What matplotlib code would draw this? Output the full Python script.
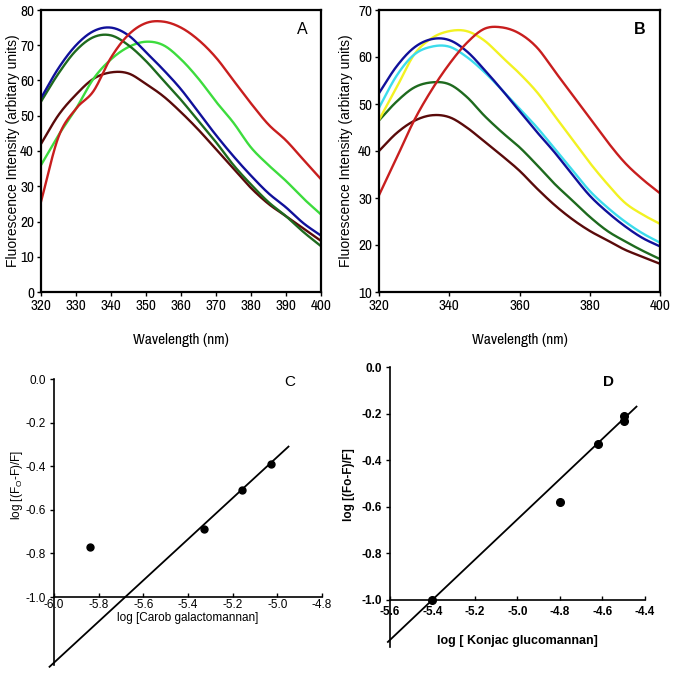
import numpy as np
import matplotlib
matplotlib.use("Agg")
import matplotlib.pyplot as plt
from matplotlib import font_manager

# ---------------- data ----------------
wl = [320, 325, 330, 335, 340, 345, 350, 355, 360, 365, 370, 375, 380, 385, 390, 395, 400]

a_red = [25.6, 44.0, 52.0, 57.0, 66.5, 73.0, 76.3, 76.7, 75.0, 71.5, 66.5, 60.0, 53.5, 47.5, 43.0, 37.5, 32.0]
a_blue = [55.0, 63.5, 70.0, 74.0, 75.0, 72.8, 68.0, 63.0, 57.5, 51.0, 44.5, 38.5, 33.0, 28.0, 24.0, 19.5, 16.0]
a_dkgreen = [54.0, 62.0, 68.5, 72.3, 72.8, 70.0, 65.5, 60.0, 54.5, 48.5, 42.5, 36.0, 30.5, 25.5, 21.5, 17.0, 13.0]
a_ltgreen = [36.0, 44.5, 52.0, 60.5, 66.0, 69.5, 71.0, 70.0, 66.0, 60.5, 54.0, 48.0, 41.0, 36.0, 31.5, 26.5, 22.0]
a_maroon = [42.0, 50.2, 56.0, 60.5, 62.3, 62.0, 59.0, 55.5, 51.0, 46.0, 40.5, 35.0, 29.5, 25.0, 21.5, 18.0, 14.5]

b_red = [30.6, 38.5, 46.5, 53.0, 58.5, 63.0, 66.0, 66.3, 65.0, 62.0, 57.0, 52.0, 47.0, 42.0, 37.5, 34.0, 31.0]
b_blue = [52.3, 58.0, 62.0, 63.8, 63.6, 61.2, 57.3, 53.0, 48.5, 44.0, 39.7, 35.0, 30.5, 27.0, 24.0, 21.5, 19.7]
b_cyan = [49.2, 56.0, 60.5, 62.2, 62.2, 60.0, 56.8, 53.0, 49.0, 45.0, 40.5, 36.0, 31.5, 28.0, 25.0, 22.5, 20.5]
b_yellow = [46.6, 53.5, 60.5, 64.0, 65.5, 65.5, 63.5, 60.0, 56.5, 52.5, 47.5, 42.5, 37.5, 33.0, 29.0, 26.5, 24.5]
b_dkgreen = [46.5, 50.5, 53.5, 54.6, 54.2, 51.5, 47.5, 44.0, 40.8, 37.0, 33.0, 29.5, 26.0, 23.0, 20.8, 18.8, 17.0]
b_maroon = [40.0, 43.8, 46.4, 47.6, 47.2, 45.0, 42.0, 39.0, 35.8, 32.0, 28.5, 25.5, 23.0, 21.0, 19.0, 17.5, 16.0]

c_x = [-5.84, -5.33, -5.16, -5.03]
c_y = [-0.77, -0.69, -0.51, -0.39]
c_fit_x = [-6.02, -4.95]
c_fit_y = [-1.32, -0.31]

d_x = [-5.40, -4.80, -4.62, -4.50, -4.50]
d_y = [-1.00, -0.58, -0.33, -0.21, -0.23]
d_fit_x = [-5.61, -4.44]
d_fit_y = [-1.18, -0.17]

a_yticks = [0, 10, 20, 30, 40, 50, 60, 70, 80]
a_xticks = [320, 330, 340, 350, 360, 370, 380, 390, 400]
b_yticks = [10, 20, 30, 40, 50, 60, 70]
b_xticks = [320, 340, 360, 380, 400]
c_xticks = [-6.0, -5.8, -5.6, -5.4, -5.2, -5.0, -4.8]
d_xticks = [-5.6, -5.4, -5.2, -5.0, -4.8, -4.6, -4.4]
cd_yticks = [0.0, -0.2, -0.4, -0.6, -0.8, -1.0]

# colours
RED = "#c81e1e"
BLUE = "#10109a"
DKGREEN = "#1e6a1e"
LTGREEN = "#3ddc3d"
MAROON = "#5a0a0a"
YELLOW = "#f2f222"
CYAN = "#3cdcec"

# fonts: use a narrow face if one is installed, else Liberation Sans
NARROW = "Liberation Sans"
for f in font_manager.fontManager.ttflist:
    if "Narrow" in f.name or "Condensed" in f.name:
        NARROW = f.name
        break
HAVE_NARROW = NARROW != "Liberation Sans"
NARROW_BOLD = NARROW if any(
    f.name == NARROW and (f.weight in ("bold", 700) or str(f.weight) == "700")
    for f in font_manager.fontManager.ttflist) else "Liberation Sans"
plt.rcParams["font.family"] = ["Liberation Sans", "DejaVu Sans"]

W, H = 673, 681
fig = plt.figure(figsize=(W / 100, H / 100), dpi=100)


def rect(l, t, r, b):
    return [l / W, 1 - b / H, (r - l) / W, (b - t) / H]


def narrow(t, size=None, weight=None):
    t.set_fontfamily(NARROW_BOLD if weight == "bold" else NARROW)
    if size:
        t.set_fontsize(size)
    if weight:
        t.set_fontweight(weight)


def smooth_plot(ax, x, y, **kw):
    """Draw a smoothed (Catmull-Rom, like a spreadsheet 'smoothed line') curve through the points."""
    x = np.asarray(x, float)
    y = np.asarray(y, float)
    px = np.concatenate([[2 * x[0] - x[1]], x, [2 * x[-1] - x[-2]]])
    py = np.concatenate([[2 * y[0] - y[1]], y, [2 * y[-1] - y[-2]]])
    t = np.linspace(0, 1, 20, endpoint=False)
    xs, ys = [], []
    for i in range(1, len(px) - 2):
        p0, p1, p2, p3 = py[i - 1], py[i], py[i + 1], py[i + 2]
        q0, q1, q2, q3 = px[i - 1], px[i], px[i + 1], px[i + 2]
        t2, t3 = t * t, t * t * t
        ys.append(0.5 * (2 * p1 + (-p0 + p2) * t + (2 * p0 - 5 * p1 + 4 * p2 - p3) * t2 + (-p0 + 3 * p1 - 3 * p2 + p3) * t3))
        xs.append(0.5 * (2 * q1 + (-q0 + q2) * t + (2 * q0 - 5 * q1 + 4 * q2 - q3) * t2 + (-q0 + 3 * q1 - 3 * q2 + q3) * t3))
    xs.append([x[-1]])
    ys.append([y[-1]])
    ax.plot(np.concatenate(xs), np.concatenate(ys), **kw)


# ---------------- panel A ----------------
axA = fig.add_axes(rect(41, 10, 321, 292))
for ys, c in [(a_maroon, MAROON), (a_ltgreen, LTGREEN), (a_dkgreen, DKGREEN), (a_blue, BLUE), (a_red, RED)]:
    smooth_plot(axA, wl, ys, color=c, lw=1.7)
axA.set_xlim(320, 400)
axA.set_ylim(0, 80)
axA.set_xticks(a_xticks)
axA.set_yticks(a_yticks)

# ---------------- panel B ----------------
axB = fig.add_axes(rect(379, 10, 660, 292))
for ys, c in [(b_maroon, MAROON), (b_dkgreen, DKGREEN), (b_yellow, YELLOW), (b_cyan, CYAN), (b_blue, BLUE), (b_red, RED)]:
    smooth_plot(axB, wl, ys, color=c, lw=1.7)
axB.set_xlim(320, 400)
axB.set_ylim(10, 70)
axB.set_xticks(b_xticks)
axB.set_yticks(b_yticks)

tick_size = 11 if HAVE_NARROW else 9.5
for ax in (axA, axB):
    for s in ax.spines.values():
        s.set_linewidth(1.6)
    ax.tick_params(direction="out", length=3, width=1, pad=2)
    for t in ax.get_xticklabels() + ax.get_yticklabels():
        narrow(t, size=tick_size)
    ax.set_xlabel("Wavelength (nm)")
    narrow(ax.xaxis.label, size=11 if HAVE_NARROW else 9.5)
    ax.set_ylabel("Fluorescence Intensity (arbitary units)", fontsize=10)
    ax.xaxis.set_label_coords(0.5, -0.145)

axA.yaxis.set_label_coords((20.5 - 41) / 280, 0.5)
axB.yaxis.set_label_coords((353 - 379) / 281, 0.5)
fig.text(302 / W, 1 - 30 / H, "A", fontsize=11.5, ha="center", va="center")
fig.text(640 / W, 1 - 30 / H, "B", fontsize=11.5, ha="center", va="center", fontweight="bold")

# ---------------- panel C ----------------
axC = fig.add_axes(rect(54, 379, 322, 664.6))
axC.plot(c_fit_x, c_fit_y, color="black", lw=1.3, clip_on=False)
axC.plot(c_x, c_y, "o", color="black", ms=5, clip_on=False)
axC.set_xlim(-6.0, -4.8)
axC.set_ylim(-1.31, 0.0)

# ---------------- panel D ----------------
axD = fig.add_axes(rect(390, 367, 645, 646.6))
axD.plot(d_fit_x, d_fit_y, color="black", lw=1.3, clip_on=False)
axD.plot(d_x, d_y, "o", color="black", ms=5.5, clip_on=False)
axD.set_xlim(-5.6, -4.4)
axD.set_ylim(-1.2, 0.0)

for ax, xt, bold in [(axC, c_xticks, False), (axD, d_xticks, True)]:
    ax.spines["top"].set_visible(False)
    ax.spines["right"].set_visible(False)
    ax.spines["bottom"].set_position(("data", -1.0))
    ax.spines["left"].set_linewidth(1.2)
    ax.spines["bottom"].set_linewidth(1.2)
    ax.set_xticks(xt)
    ax.set_yticks(cd_yticks)
    ax.set_xticklabels([f"{v:.1f}" for v in xt])
    ax.set_yticklabels([f"{v:.1f}" for v in cd_yticks])
    ax.tick_params(axis="y", direction="out", length=3, width=1, labelsize=8.5, pad=3)
    ax.tick_params(axis="x", direction="in", length=3, width=1, labelsize=8.5, pad=1.5)
    if bold:
        ax.tick_params(axis="x", pad=4)
        bsize = 9.5 if NARROW_BOLD != "Liberation Sans" else 8.5
        for t in ax.get_xticklabels() + ax.get_yticklabels():
            narrow(t, size=bsize, weight="bold")

axC.set_xlabel("log [Carob galactomannan]", fontsize=8.5)
axC.set_ylabel("log [(F$_\\mathregular{O}$-F)/F]", fontsize=8.5)
axD.set_xlabel("log [ Konjac glucomannan]")
narrow(axD.xaxis.label, size=9.5 if NARROW_BOLD != "Liberation Sans" else 9, weight="bold")
axD.set_ylabel("log [(Fo-F)/F]", fontsize=8.5, fontweight="bold")

# label positions (axes coords)
axC.xaxis.set_label_coords(0.5, 1 - (612 - 379) / 285.6)
axC.yaxis.set_label_coords((25 - 54) / 268, 1 - (485 - 379) / 285.6)
axD.xaxis.set_label_coords(0.5, 1 - (635 - 367) / 279.6)
axD.yaxis.set_label_coords((355 - 390) / 255, 1 - (485 - 367) / 279.6)

fig.text(290 / W, 1 - 382 / H, "C", fontsize=11, ha="center", va="center")
fig.text(608 / W, 1 - 382 / H, "D", fontsize=11, ha="center", va="center", fontweight="bold")

fig.savefig("out.png", dpi=100)
